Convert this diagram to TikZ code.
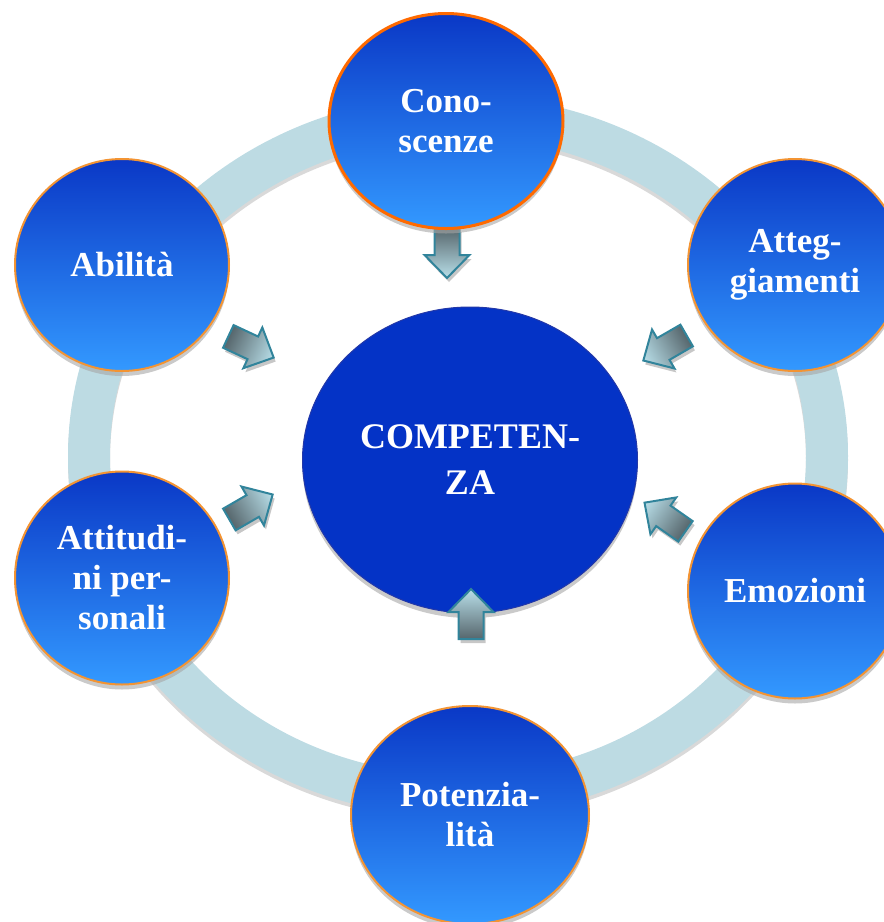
\documentclass[tikz,border=0pt]{standalone}
\usepackage{fontspec}
\setmainfont{Liberation Serif}
\usetikzlibrary{shapes.geometric,shadows}
\definecolor{ringblue}{HTML}{BDDBE3}
\definecolor{bubbletop}{HTML}{0A38C6}
\definecolor{bubblebot}{HTML}{3399FF}
\definecolor{bubbleedge}{HTML}{F39433}
\definecolor{coreblue}{HTML}{0433C6}
\definecolor{coreedge}{HTML}{2338A8}
\definecolor{arredge}{HTML}{31849B}
\definecolor{arrdark}{HTML}{56666C}
\definecolor{arrlight}{HTML}{B9DFE9}
\tikzset{
  bubble/.style={ellipse, draw=bubbleedge, line width=2pt, top color=bubbletop,
    bottom color=bubblebot, inner sep=0pt, text=white, align=center,
    font=\fontsize{35}{40}\selectfont\bfseries,
    drop shadow={shadow xshift=0pt, shadow yshift=-5pt, fill=black!35, opacity=.6}},
  core/.style={ellipse, draw=coreedge, line width=1pt, fill=coreblue,
    inner sep=0pt, text=white, align=center,
    font=\fontsize{36}{46}\selectfont\bfseries,
    drop shadow={shadow xshift=0pt, shadow yshift=-5pt, fill=black!35, opacity=.6}},
  blkarrow/.style={draw=arredge, line width=2pt, left color=arrdark, right color=arrlight},
}
\begin{document}
\begin{tikzpicture}[x=1pt,y=-1pt]
  \useasboundingbox (0,0) rectangle (884,922);
  \clip (0,0) rectangle (884,922);
  % ring
  \draw[black!15, line width=42pt] (458,460) ellipse [x radius=369, y radius=340];
  \draw[ringblue, line width=42pt] (458,456) ellipse [x radius=369, y radius=340];
  % centre
  \node[core, minimum width=335pt, minimum height=306pt] (compet) at (470,460) {COMPETEN-\\ZA};
  % arrows
  \foreach \x/\y/\a in {447/253/-90, 471/614/90, 251/347/-25, 665/348/-150, 251/507/30, 665/517/145}{
    \fill[black!22, transform canvas={shift={(\x+2,\y+4)}, rotate=\a}]
      (-25,-12.5) -- (2,-12.5) -- (2,-22.5) -- (25,0) -- (2,22.5) -- (2,12.5) -- (-25,12.5) -- cycle;
    \draw[blkarrow, transform canvas={shift={(\x,\y)}, rotate=\a}]
      (-25,-12.5) -- (2,-12.5) -- (2,-22.5) -- (25,0) -- (2,22.5) -- (2,12.5) -- (-25,12.5) -- cycle;
  }
  % outer circles
  \node[bubble, draw={rgb,255:red,255;green,106;blue,0}, line width=3pt,
        minimum width=234pt, minimum height=215pt] (conosc) at (446,121) {Cono-\\scenze};
  \node[bubble, minimum width=214pt, minimum height=212pt] (abil) at (122,265) {Abilità};
  \node[bubble, minimum width=214pt, minimum height=212pt] (atteg) at (795,265) {Atteg-\\giamenti};
  \node[bubble, minimum width=214pt, minimum height=213pt] (attit) at (122,578) {Attitudi-\\ni per-\\sonali};
  \node[bubble, minimum width=214pt, minimum height=215pt] (emoz) at (795,591) {Emozioni};
  \node[bubble, minimum width=238pt, minimum height=218pt] (poten) at (470,815) {Potenzia-\\lità};
\end{tikzpicture}
\end{document}
